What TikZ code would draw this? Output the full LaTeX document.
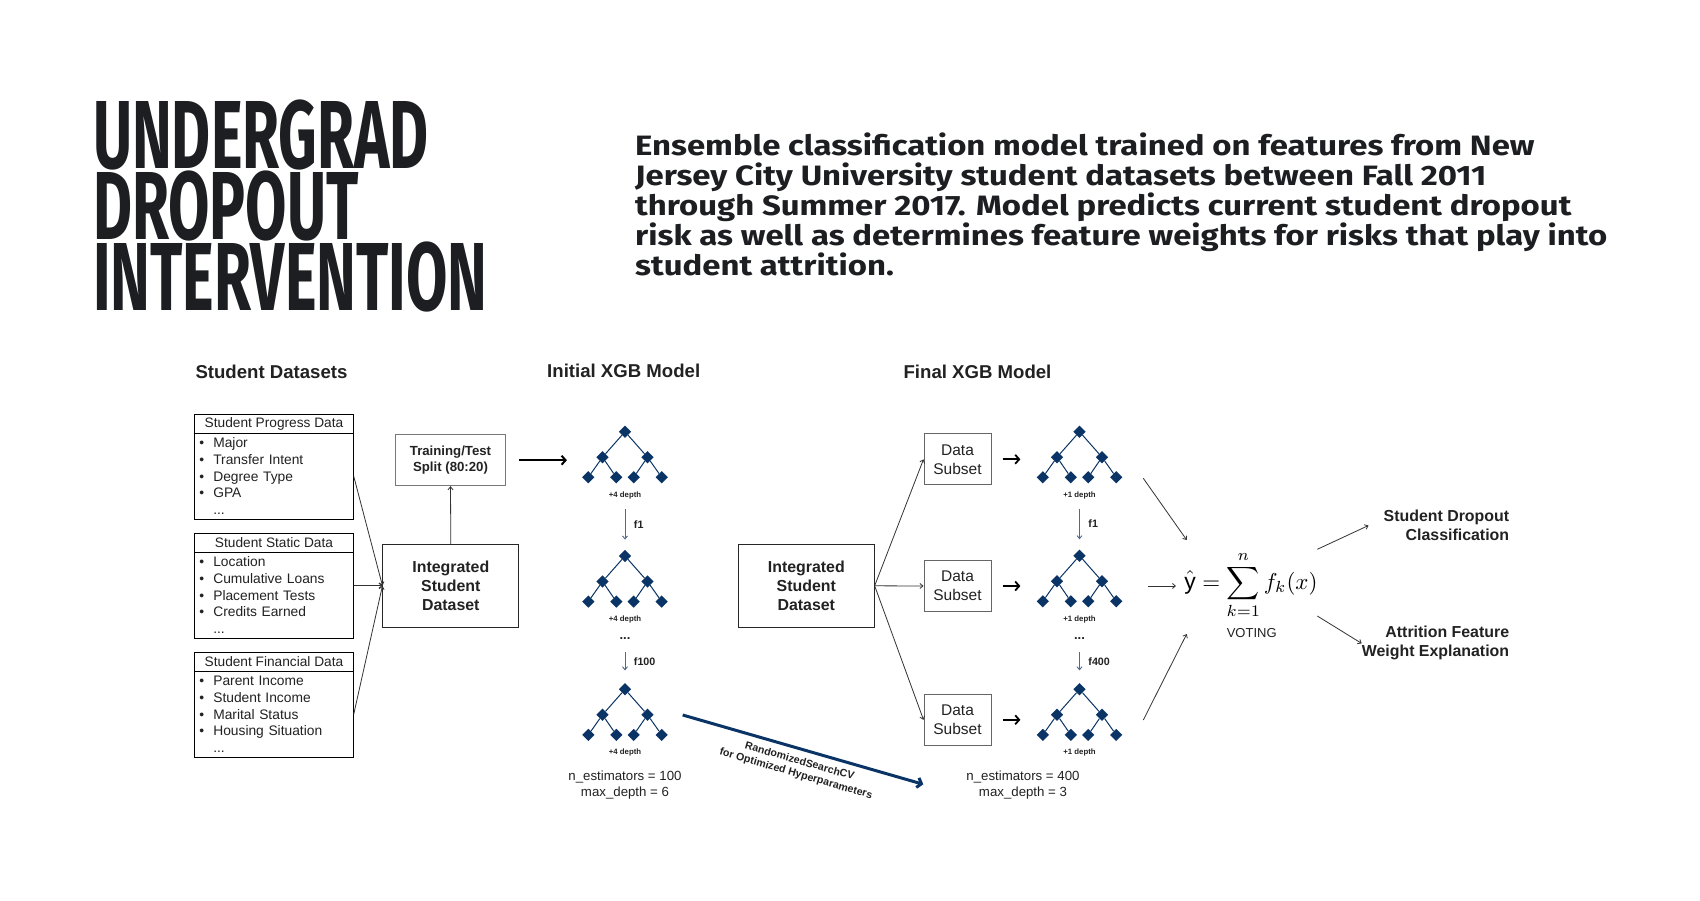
\documentclass[tikz,border=0pt]{standalone}
\usepackage{fontspec}
\setmainfont{Liberation Sans}
\newfontfamily\titlefont[FakeStretch=0.62]{Fira Sans}
\newfontfamily\parafont[FakeStretch=1.175]{Fira Sans}
\usetikzlibrary{shapes.geometric,arrows.meta,positioning}

\definecolor{inkdark}{RGB}{29,30,34}
\definecolor{txtgray}{RGB}{34,34,34}
\definecolor{navy}{RGB}{10,52,102}
\definecolor{steel}{RGB}{80,105,140}
\definecolor{boxgray}{RGB}{120,120,120}

\newcommand{\bitem}[1]{\makebox[14pt][l]{\textbullet}#1}
\newcommand{\bmore}{\hspace*{14pt}...}

\tikzstyle{titletxt}=[font=\titlefont\bfseries\fontsize{96.7}{70.85}\selectfont, text=inkdark, align=left, inner sep=0pt]
\tikzstyle{summary}=[font=\parafont\bfseries\fontsize{28}{30}\selectfont, text=inkdark, align=left, inner sep=0pt]
\tikzstyle{hdr}=[font=\fontsize{18.6}{22}\selectfont\bfseries, text=txtgray, anchor=base, inner sep=0pt]
\tikzstyle{dshead}=[draw=black, line width=1pt, outer sep=0pt, inner sep=0pt, minimum width=159.4pt, minimum height=18.7pt, font=\fontsize{13.7}{16}\selectfont, text=txtgray]
\tikzstyle{dsbody}=[draw=black, line width=1pt, outer sep=0pt, inner xsep=5pt, inner ysep=0pt, text width=149.4pt, minimum height=86.3pt, align=left, font=\fontsize{13.8}{16.7}\selectfont, text=txtgray]
\tikzstyle{splitbox}=[draw=boxgray, line width=0.9pt, minimum width=110.4pt, minimum height=51pt, align=center, font=\fontsize{13.2}{16}\selectfont\bfseries, text=txtgray]
\tikzstyle{intbox}=[draw=black!85, line width=1pt, minimum width=135.7pt, minimum height=82.7pt, align=center, font=\fontsize{15.9}{19}\selectfont\bfseries, text=txtgray]
\tikzstyle{subbox}=[draw=black!60, line width=1pt, minimum width=67pt, minimum height=50.7pt, align=center, font=\fontsize{15.5}{19}\selectfont, text=txtgray]
\tikzstyle{leaf}=[diamond, fill=navy, minimum width=12.4pt, minimum height=12.4pt, inner sep=0pt]
\tikzstyle{branch}=[draw=navy, line width=1pt]
\tikzstyle{depthlbl}=[font=\fontsize{7.8}{9}\selectfont\bfseries, text=txtgray, inner sep=0pt]
\tikzstyle{dotslbl}=[font=\fontsize{13}{15}\selectfont\bfseries, text=txtgray, inner sep=0pt]
\tikzstyle{flbl}=[anchor=west, xshift=8.5pt, inner sep=0pt, font=\fontsize{10.7}{12}\selectfont\bfseries, text=txtgray]
\tikzstyle{paramlbl}=[align=center, inner sep=0pt, font=\fontsize{13.25}{16}\selectfont, text=txtgray]
\tikzstyle{tunelbl}=[align=center, inner sep=0pt, font=\fontsize{10.6}{13}\selectfont\bfseries, text=txtgray]
\tikzstyle{votelbl}=[inner sep=0pt, font=\fontsize{13}{15}\selectfont, text=txtgray]
\tikzstyle{outlbl}=[align=right, inner sep=0pt, font=\fontsize{15.9}{19}\selectfont\bfseries, text=txtgray]
\tikzstyle{feed}=[draw=black!80, line width=0.8pt, -{Straight Barb[length=3pt,width=5pt]}]
\tikzstyle{bigstep}=[draw=black, line width=2pt, -{Straight Barb[length=4pt,width=9pt]}]
\tikzstyle{fstep}=[draw=steel, line width=0.9pt, -{Straight Barb[length=3pt,width=5pt]}, shorten <=10pt, shorten >=10pt]
\tikzstyle{tune}=[draw=navy, line width=3pt, -{Straight Barb[length=4pt,width=10pt]}]

\tikzset{xgbtree/.pic={
  \node[leaf] (-r) at (0,0) {};
  \node[leaf] (-a) at (-22.5,25.5) {};
  \node[leaf] (-b) at (22.5,25.5) {};
  \node[leaf] (-l1) at (-36.7,45.6) {};
  \node[leaf] (-l2) at (-8.7,45.6) {};
  \node[leaf] (-l3) at (8.7,45.6) {};
  \node[leaf] (-l4) at (36.7,45.6) {};
  \draw[branch] (-r) -- (-a) (-r) -- (-b) (-a) -- (-l1) (-a) -- (-l2) (-b) -- (-l3) (-b) -- (-l4);
  \node[depthlbl] (-d) at (0,63.3) {#1};
}}

\begin{document}
\begin{tikzpicture}[x=1pt,y=-1pt]
\useasboundingbox[fill=white] (0,0) rectangle (1700,900);

% title and summary (base = last line)
\node[titletxt, anchor=base west] (title) at (93,310) {UNDERGRAD\\DROPOUT\\INTERVENTION};
\node[summary, anchor=base west] (summary) at (635,275) {Ensemble classification model trained on features from New\\Jersey City University student datasets between Fall 2011\\through Summer 2017. Model predicts current student dropout\\risk as well as determines feature weights for risks that play into\\student attrition.};

% column headers
\node[hdr] (hdata) at (271.5,378) {Student Datasets};
\node[hdr] (hinit) at (623.7,377) {Initial XGB Model};
\node[hdr] (hfinal) at (977.5,378) {Final XGB Model};

% student datasets
\node[dshead] (progh) at (274,423.65) {Student Progress Data};
\node[dsbody, below=0pt of progh] (prog) {\bitem{Major}\\\bitem{Transfer Intent}\\\bitem{Degree Type}\\\bitem{GPA}\\\bmore};
\node[dshead] (stath) at (274,542.65) {Student Static Data};
\node[dsbody, below=0pt of stath] (stat) {\bitem{Location}\\\bitem{Cumulative Loans}\\\bitem{Placement Tests}\\\bitem{Credits Earned}\\\bmore};
\node[dshead] (finh) at (274,661.85) {Student Financial Data};
\node[dsbody, below=0pt of finh] (fin) {\bitem{Parent Income}\\\bitem{Student Income}\\\bitem{Marital Status}\\\bitem{Housing Situation}\\\bmore};

\node[splitbox] (split) at (450.5,460.2) {Training/Test\\Split (80:20)};
\node[intbox] (integ) at (450.8,585.7) {Integrated\\Student\\Dataset};
\draw[feed] (prog.east) -- (integ.west);
\draw[feed] (stat.east |- integ.west) -- (integ.west);
\draw[feed] (fin.east) -- (integ.west);
\draw[feed] (integ.north) -- (split.south);

% initial model
\pic (ia) at (625,431.7) {xgbtree=+4 depth};
\pic (ib) at (625,556) {xgbtree=+4 depth};
\node[dotslbl] (idots) at (625,638.3) {...};
\pic (ic) at (625,689.3) {xgbtree=+4 depth};
\draw[bigstep, shorten <=13pt, shorten >=15pt] (split.east) -- (split.east -| ia-l1.west);
\draw[fstep] (ia-d) -- node[flbl] {f1} (ib-r);
\draw[fstep, shorten <=12.5pt, shorten >=12.5pt] (idots) -- node[flbl] {f100} (ic-r);
\node[paramlbl] (iparam) at (625,785.5) {n\_estimators = 100\\max\_depth = 6};

% hyperparameter search
\coordinate (tunestart) at (682.7,715);
\coordinate (tuneend) at (923.3,784.3);
\draw[tune] (tunestart) -- node[midway, sloped, below=6pt, tunelbl] {RandomizedSearchCV\\for Optimized Hyperparameters} (tuneend);

% final model
\node[intbox] (integb) at (806.3,585.8) {Integrated\\Student\\Dataset};
\node[subbox] (suba) at (957.5,459.3) {Data\\Subset};
\node[subbox] (subb) at (957.5,586) {Data\\Subset};
\node[subbox] (subc) at (957.5,719.8) {Data\\Subset};
\draw[feed] (integb.east) -- (suba.west);
\draw[feed] (integb.east) -- (subb.west);
\draw[feed] (integb.east) -- (subc.west);

\pic (fa) at (1079.5,431.7) {xgbtree=+1 depth};
\pic (fb) at (1079.5,555.7) {xgbtree=+1 depth};
\node[dotslbl] (fdots) at (1079.5,638.3) {...};
\pic (fc) at (1079.5,689.3) {xgbtree=+1 depth};
\draw[bigstep, line width=1.8pt, shorten <=11pt, shorten >=16pt] (suba.east) -- (suba.east -| fa-l1.west);
\draw[bigstep, line width=1.8pt, shorten <=11pt, shorten >=16pt] (subb.east) -- (subb.east -| fb-l1.west);
\draw[bigstep, line width=1.8pt, shorten <=11pt, shorten >=16pt] (subc.east) -- (subc.east -| fc-l1.west);
\draw[fstep] (fa-d) -- node[flbl] {f1} (fb-r);
\draw[fstep, shorten <=12.5pt, shorten >=12.5pt] (fdots) -- node[flbl] {f400} (fc-r);
\node[paramlbl] (fparam) at (1023,785.5) {n\_estimators = 400\\max\_depth = 3};

% voting
\node[anchor=base, inner sep=0pt, scale=2.3] (vote) at (1251,589) {$\hat{\mathrm{y}} = \displaystyle\sum_{k=1}^{n} f_k(x)$};
\node[votelbl] (votetxt) at (1251.7,633.3) {VOTING};
\coordinate (va) at (1143.3,478.3);
\coordinate (vaend) at (1186.7,540);
\coordinate (vb) at (1148,586);
\coordinate (vbend) at (1176,586);
\coordinate (vc) at (1143.3,720);
\coordinate (vcend) at (1186.7,634);
\draw[feed] (va) -- (vaend);
\draw[feed] (vb) -- (vbend);
\draw[feed] (vc) -- (vcend);

% outputs
\node[outlbl, anchor=east] (outcls) at (1509.3,525.5) {Student Dropout\\Classification};
\node[outlbl, anchor=east] (outwt) at (1509.3,643.4) {Attrition Feature\\Weight Explanation};
\coordinate (oa) at (1317.3,549.3);
\coordinate (ob) at (1317.3,616);
\draw[feed] (oa) -- ([xshift=-15pt]outcls.west);
\draw[feed] (ob) -- (outwt.west);
\end{tikzpicture}
\end{document}
